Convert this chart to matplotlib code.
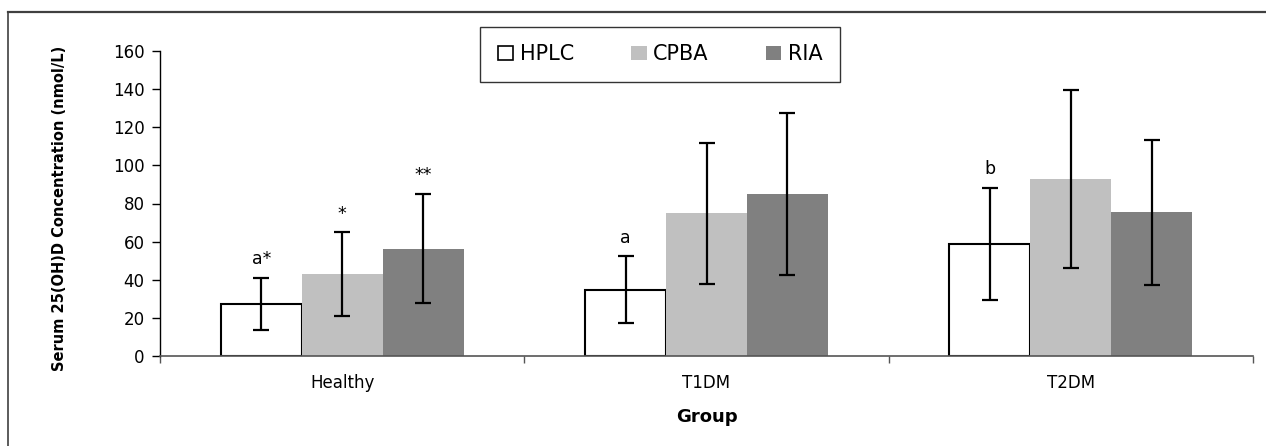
import matplotlib
matplotlib.use("Agg")
import matplotlib.pyplot as plt
from matplotlib.lines import Line2D
from matplotlib.patches import Patch
import numpy as np

# values
groups = ["Healthy", "T1DM", "T2DM"]
methods = ["HPLC", "CPBA", "RIA"]
hplc_mean = [27.2, 34.8, 58.8]
hplc_err = [13.7, 17.4, 29.5]
cpba_mean = [43.0, 74.9, 92.9]
cpba_err = [21.8, 37.0, 46.5]
ria_mean = [56.3, 85.0, 75.5]
ria_err = [28.7, 42.5, 38.0]
labels_hplc = ["a*", "a", "b"]
labels_cpba = ["*", "", ""]
labels_ria = ["**", "", ""]

W, H = 1266, 446
plt.rcParams["font.family"] = ["DejaVu Sans"]

fig = plt.figure(figsize=(W / 100, H / 100), dpi=100)
ax = fig.add_axes([160 / W, 1 - 356 / H, (1253 - 160) / W, (356 - 51) / H])

bar_w = 1 / 4.5
x = np.arange(len(groups)) + 0.5
series = [
    (hplc_mean, hplc_err, labels_hplc, dict(facecolor="white", edgecolor="black", linewidth=1.5)),
    (cpba_mean, cpba_err, labels_cpba, dict(facecolor="#C0C0C0", edgecolor="none")),
    (ria_mean, ria_err, labels_ria, dict(facecolor="#808080", edgecolor="none")),
]

for i, (mean, err, labs, style) in enumerate(series):
    xpos = x + (i - 1) * bar_w
    ax.bar(xpos, mean, width=bar_w, zorder=2, **style)
    ax.errorbar(xpos, mean, yerr=err, fmt="none", ecolor="black",
                elinewidth=1.6, capsize=5.5, capthick=1.6, zorder=3)
    for xp, m, e, lab in zip(xpos, mean, err, labs):
        if lab:
            ax.annotate(lab, (xp, m + e), xytext=(0, 7), textcoords="offset points",
                        ha="center", va="bottom", fontsize=12.5)

ax.set_xlim(0, 3)
ax.set_ylim(0, 160)
ax.set_yticks(np.arange(0, 161, 20))
ax.tick_params(axis="y", direction="out", length=6, width=1, pad=5, labelsize=12)
ax.set_xticks([0, 1, 2, 3])
ax.set_xticklabels([])
ax.tick_params(axis="x", which="major", direction="out", length=5, width=1, color="#555555")
ax.set_xticks(x, minor=True)
ax.set_xticklabels(groups, minor=True)
ax.tick_params(axis="x", which="minor", length=0, pad=13, labelsize=12)

for s in ["top", "right"]:
    ax.spines[s].set_visible(False)
ax.spines["left"].set_linewidth(1)
ax.spines["bottom"].set_color("#555555")
ax.spines["bottom"].set_linewidth(1.2)

fig.text(59 / W, 1 - 208 / H, "Serum 25(OH)D Concentration (nmol/L)", rotation=90,
         ha="center", va="center", fontsize=10.5, fontweight="bold")
fig.text(707 / W, 1 - 417 / H, "Group", ha="center", va="center",
         fontsize=13, fontweight="bold")

handles = [
    Patch(facecolor="white", edgecolor="black", linewidth=1.2),
    Patch(facecolor="#C0C0C0", edgecolor="none"),
    Patch(facecolor="#808080", edgecolor="none"),
]
leg = fig.legend(handles, methods, loc="center", ncol=3,
                 bbox_to_anchor=(660 / W, 1 - 54.5 / H), fontsize=15,
                 frameon=True, fancybox=False, edgecolor="black",
                 handlelength=0.75, handleheight=0.65, handletextpad=0.3,
                 columnspacing=2.75, borderpad=0.85, borderaxespad=0)
leg.get_frame().set_linewidth(1)

# outer chart-area border (top and left edges visible in the reference)
fig.add_artist(Line2D([8 / W, 1], [1 - 12 / H, 1 - 12 / H], color="#404040", linewidth=1.6))
fig.add_artist(Line2D([8 / W, 8 / W], [0, 1 - 12 / H], color="#404040", linewidth=1.2))

fig.savefig("out.png", dpi=100)
